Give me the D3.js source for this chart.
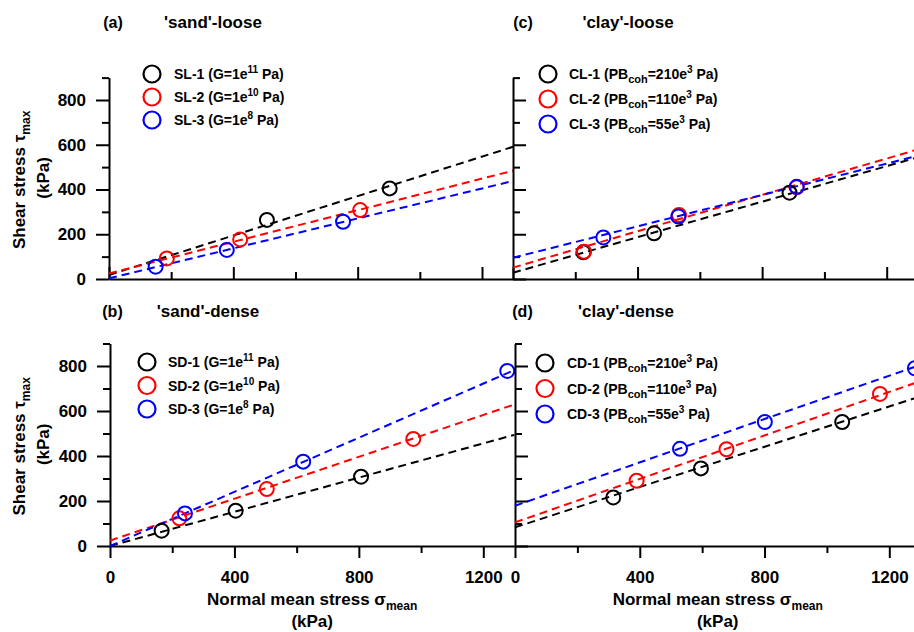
<!DOCTYPE html>
<html><head><meta charset="utf-8">
<script src="https://cdn.jsdelivr.net/npm/d3@7"></script>
<style>
body{margin:0;background:#fff}
svg{display:block}
text{font-family:"Liberation Sans",Arial,sans-serif;font-weight:bold;fill:#000}
</style>
</head><body>
<svg id="chart" width="914" height="632"></svg>
<script>
// ---------- data ----------
const xMajorTicks = [0, 400, 800, 1200];
const xMinorTicks = [200, 600, 1000];
const yMajorTicks = [0, 200, 400, 600, 800];
const yMinorTicks = [100, 300, 500, 700, 900];
const xDomain = [0, 1300];
const yDomain = [0, 900];

const panelLetters = ["(a)", "(b)", "(c)", "(d)"];
const panelTitles = ["'sand'-loose", "'sand'-dense", "'clay'-loose", "'clay'-dense"];
const seriesColors = ["#000000", "#ff0000", "#0000ff"];

const sandLooseNames = ["SL-1", "SL-2", "SL-3"];
const sandDenseNames = ["SD-1", "SD-2", "SD-3"];
const clayLooseNames = ["CL-1", "CL-2", "CL-3"];
const clayDenseNames = ["CD-1", "CD-2", "CD-3"];
const sandExponents = ["11", "10", "8"];
const clayCohesion = ["210", "110", "55"];

// points [sigma_mean, tau_max] in kPa
const sandLoosePoints = [
  [[508, 264], [903, 405]],
  [[186, 92], [422, 177], [808, 308]],
  [[150, 55], [379, 130], [753, 256]]
];
const sandLooseFits = [
  [[0, 18], [1300, 591]],
  [[0, 25], [1300, 484]],
  [[0, 3], [1300, 438]]
];
const sandDensePoints = [
  [[166, 68], [404, 157], [807, 308]],
  [[223, 123], [504, 253], [975, 476]],
  [[241, 145], [621, 375], [1277, 778]]
];
const sandDenseFits = [
  [[0, 0], [1300, 494]],
  [[0, 24], [1300, 629]],
  [[0, 0], [1300, 782]]
];
const clayLoosePoints = [
  [[226, 119], [453, 204], [888, 386]],
  [[228, 122], [533, 286], [911, 410]],
  [[290, 186], [531, 279], [911, 412]]
];
const clayLooseFits = [
  [[0, 28], [1300, 544]],
  [[0, 51], [1300, 579]],
  [[0, 95], [1300, 551]]
];
const clayDensePoints = [
  [[315, 216], [596, 345], [1049, 551]],
  [[390, 290], [678, 430], [1170, 676]],
  [[529, 432], [801, 551], [1282, 790]]
];
const clayDenseFits = [
  [[0, 83], [1300, 665]],
  [[0, 105], [1300, 733]],
  [[0, 179], [1300, 805]]
];

// ---------- layout ----------
const panels = [
  {letter: panelLetters[0], title: panelTitles[0], names: sandLooseNames, kind: "sand", pts: sandLoosePoints, fits: sandLooseFits,
   x0: 109, x1200: 482, y0: 279, y800: 100, side: "left", xTickDir: "up", xLabels: false, yLabels: true,
   letterX: 113, titleX: 213, headY: 28, leg: {cx: 152, cy: 74, dy: 23, tx: 174}},
  {letter: panelLetters[1], title: panelTitles[1], names: sandDenseNames, kind: "sand", pts: sandDensePoints, fits: sandDenseFits,
   x0: 110, x1200: 483.3, y0: 546, y800: 366, side: "left", xTickDir: "down", xLabels: true, yLabels: true,
   letterX: 112.5, titleX: 208, headY: 317, leg: {cx: 147, cy: 362, dy: 23.5, tx: 168}},
  {letter: panelLetters[2], title: panelTitles[2], names: clayLooseNames, kind: "clay", pts: clayLoosePoints, fits: clayLooseFits,
   x0: 513, x1200: 886.7, y0: 279, y800: 100, side: "right", xTickDir: "up", xLabels: false, yLabels: false,
   letterX: 523, titleX: 628, headY: 28, leg: {cx: 548, cy: 74, dy: 25, tx: 569}},
  {letter: panelLetters[3], title: panelTitles[3], names: clayDenseNames, kind: "clay", pts: clayDensePoints, fits: clayDenseFits,
   x0: 515, x1200: 889.3, y0: 546, y800: 366, side: "right", xTickDir: "down", xLabels: true, yLabels: false,
   letterX: 522.5, titleX: 626, headY: 317, leg: {cx: 545, cy: 363, dy: 25.5, tx: 567}}
];

const svg = d3.select("#chart");

function styleAxis(g) {
  g.selectAll("path.domain").attr("stroke", "#000").attr("stroke-width", 2);
  g.selectAll(".tick line").attr("stroke", "#000").attr("stroke-width", 2);
  g.selectAll(".tick text").attr("font-size", 17).attr("font-weight", "bold")
    .attr("font-family", '"Liberation Sans", Arial, sans-serif').attr("fill", "#000");
}

panels.forEach(p => {
  const kx = (p.x1200 - p.x0) / 1200;
  const ky = (p.y0 - p.y800) / 800;
  const x = d3.scaleLinear().domain(xDomain).range([p.x0, p.x0 + kx * xDomain[1]]);
  const y = d3.scaleLinear().domain(yDomain).range([p.y0, p.y0 - ky * yDomain[1]]);
  const g = svg.append("g");

  // x axis
  const xAxisMaker = p.xTickDir === "up" ? d3.axisTop : d3.axisBottom;
  const gx = g.append("g").attr("transform", `translate(0,${p.y0})`);
  gx.call(xAxisMaker(x).tickValues(xMajorTicks).tickSizeInner(12).tickSizeOuter(0).tickPadding(13)
    .tickFormat(p.xLabels ? d3.format("d") : () => ""));
  styleAxis(gx);
  const gxm = g.append("g").attr("transform", `translate(0,${p.y0})`);
  gxm.call(xAxisMaker(x).tickValues(xMinorTicks).tickSizeInner(7).tickSizeOuter(0).tickFormat(() => ""));
  gxm.select("path.domain").remove();
  styleAxis(gxm);

  // y axis
  const yAxisMaker = p.side === "left" ? d3.axisLeft : d3.axisRight;
  const gy = g.append("g").attr("transform", `translate(${p.x0},0)`);
  gy.call(yAxisMaker(y).tickValues(yMajorTicks).tickSizeInner(13).tickSizeOuter(0).tickPadding(10)
    .tickFormat(p.yLabels ? d3.format("d") : () => ""));
  styleAxis(gy);
  const gym = g.append("g").attr("transform", `translate(${p.x0},0)`);
  gym.call(yAxisMaker(y).tickValues(yMinorTicks).tickSizeInner(7).tickSizeOuter(0).tickFormat(() => ""));
  gym.select("path.domain").remove();
  styleAxis(gym);

  // fits
  const line = d3.line().x(d => x(d[0])).y(d => y(d[1]));
  p.fits.forEach((f, i) => {
    g.append("path").attr("d", line(f)).attr("fill", "none")
      .attr("stroke", seriesColors[i]).attr("stroke-width", 2).attr("stroke-dasharray", "8,5");
  });
  // points
  p.pts.forEach((s, i) => {
    g.selectAll(null).data(s).enter().append("circle")
      .attr("cx", d => x(d[0])).attr("cy", d => y(d[1])).attr("r", 7)
      .attr("fill", "none").attr("stroke", seriesColors[i]).attr("stroke-width", 2);
  });

  // headings
  g.append("text").attr("x", p.letterX).attr("y", p.headY).attr("text-anchor", "middle")
    .attr("font-size", 16).text(p.letter);
  g.append("text").attr("x", p.titleX).attr("y", p.headY).attr("text-anchor", "middle")
    .attr("font-size", 17).text(p.title);

  // legend
  p.names.forEach((n, i) => {
    const cy = p.leg.cy + i * p.leg.dy;
    g.append("circle").attr("cx", p.leg.cx).attr("cy", cy).attr("r", 8.5)
      .attr("fill", "none").attr("stroke", seriesColors[i]).attr("stroke-width", 2.2);
    const t = g.append("text").attr("x", p.leg.tx).attr("y", cy + 5).attr("font-size", 14);
    if (p.kind === "sand") {
      t.append("tspan").text(`${n} (G=1e`);
      t.append("tspan").attr("font-size", 10).attr("dy", -6).text(sandExponents[i]);
      t.append("tspan").attr("dy", 6).text(" Pa)");
    } else {
      t.append("tspan").text(`${n} (PB`);
      t.append("tspan").attr("font-size", 11).attr("dy", 4).text("coh");
      t.append("tspan").attr("dy", -4).text(`=${clayCohesion[i]}e`);
      t.append("tspan").attr("font-size", 10).attr("dy", -6).text("3");
      t.append("tspan").attr("dy", 6).text(" Pa)");
    }
  });

  // axis titles
  if (p.side === "left") {
    const cyMid = p.y0 - ky * 443;
    const t1 = g.append("text").attr("transform", `translate(25,${cyMid}) rotate(-90)`)
      .attr("text-anchor", "middle").attr("font-size", 17);
    t1.append("tspan").text("Shear stress τ");
    t1.append("tspan").attr("font-size", 12).attr("dy", 5).text("max");
    g.append("text").attr("transform", `translate(49,${cyMid - 2}) rotate(-90)`)
      .attr("text-anchor", "middle").attr("font-size", 17).text("(kPa)");
  }
  if (p.xLabels) {
    const cxMid = p.x0 + kx * 650 - 0;
    const t2 = g.append("text").attr("x", cxMid).attr("y", 605).attr("text-anchor", "middle").attr("font-size", 17);
    t2.append("tspan").text("Normal mean stress σ");
    t2.append("tspan").attr("font-size", 12).attr("dy", 5).text("mean");
    g.append("text").attr("x", cxMid).attr("y", 627).attr("text-anchor", "middle").attr("font-size", 17).text("(kPa)");
  }
});
</script>
</body></html>
